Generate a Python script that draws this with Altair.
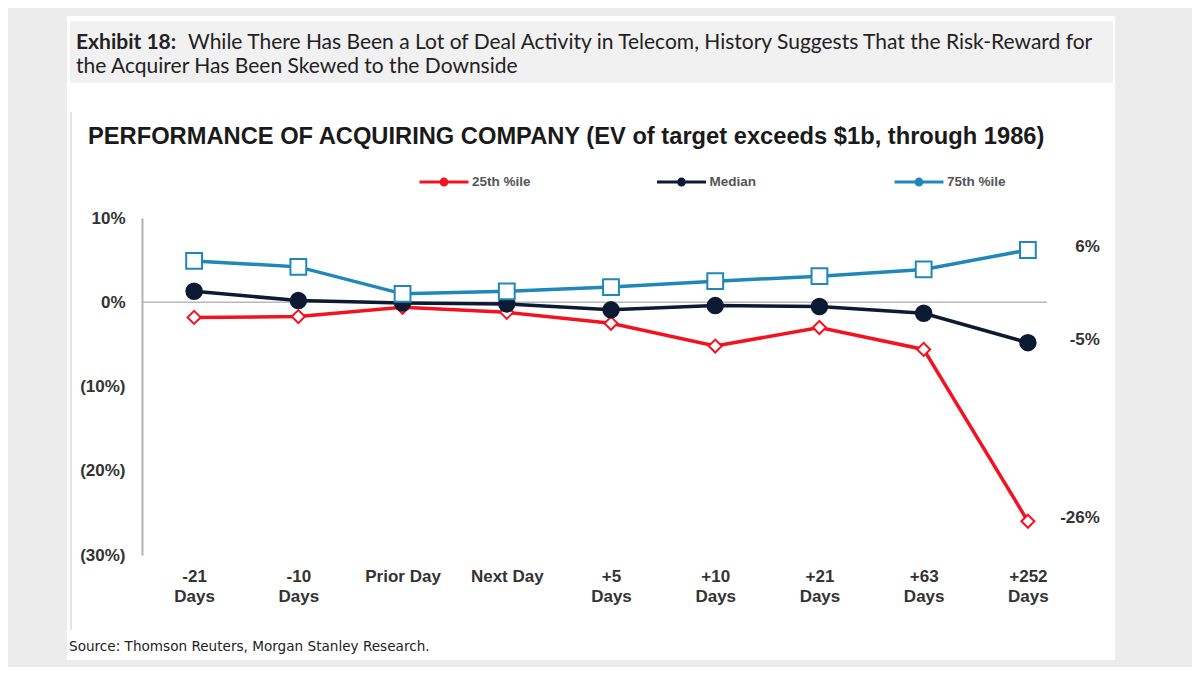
import altair as alt
import pandas as pd

categories = ["-21 Days", "-10 Days", "Prior Day", "Next Day", "+5 Days",
              "+10 Days", "+21 Days", "+63 Days", "+252 Days"]
series_names = ["25th %ile", "Median", "75th %ile"]
p25 = [-1.8, -1.7, -0.6, -1.2, -2.5, -5.2, -3.0, -5.6, -26.0]
median = [1.3, 0.2, -0.1, -0.2, -0.9, -0.4, -0.5, -1.3, -4.8]
p75 = [4.9, 4.2, 1.0, 1.3, 1.8, 2.5, 3.1, 3.9, 6.2]
end_labels = ["-26%", "-5%", "6%"]
y_ticks = [10, 0, -10, -20, -30]

colors = ["#f3121f", "#0c1a33", "#1f87b9"]
fills = ["white", "#0c1a33", "white"]
shapes = ["diamond", "circle", "square"]
sizes = [170, 240, 250]

rows = []
for name, vals in zip(series_names, [p25, median, p75]):
    for c, v in zip(categories, vals):
        rows.append({"category": c, "series": name, "value": v})
df = pd.DataFrame(rows)
end_df = pd.DataFrame({
    "category": [categories[-1]] * 3,
    "series": series_names,
    "value": [p25[-1], median[-1], p75[-1]],
    "label": end_labels,
})

FONT = "Liberation Sans"

x_enc = alt.X("category:N", sort=categories,
              scale=alt.Scale(type="point", padding=0.5),
              axis=alt.Axis(title=None, domain=False, ticks=False, grid=False,
                            labelAngle=0, labelPadding=13, labelFontSize=17,
                            labelFontWeight="bold", labelColor="#333333",
                            labelFont=FONT, labelLineHeight=20, zindex=2,
                            labelExpr="indexof('+-', substring(datum.label, 0, 1)) >= 0 ? split(datum.label, ' ') : datum.label"))
y_enc = alt.Y("value:Q", scale=alt.Scale(domain=[-30, 10], nice=False, zero=False),
              axis=alt.Axis(title=None, values=y_ticks, grid=False, ticks=False,
                            domainColor="#b3b3b3", domainWidth=2, zindex=2,
                            labelFontSize=17, labelFontWeight="bold",
                            labelColor="#333333", labelFont=FONT, labelPadding=17,
                            labelExpr="datum.value < 0 ? '(' + abs(datum.value) + '%)' : datum.value + '%'"))

one = pd.DataFrame({"a": [0]})

panel = alt.Chart(one).mark_rect(color="white").encode(
    x=alt.value(-75), x2=alt.value(973), y=alt.value(-202), y2=alt.value(442))
bar = alt.Chart(one).mark_rect(color="#f1f1f1").encode(
    x=alt.value(-72), x2=alt.value(971), y=alt.value(-197), y2=alt.value(-135))
ex_bold = alt.Chart(one).mark_text(text="Exhibit 18:", fontSize=21, fontWeight="bold",
                                   font="Lato", color="#222222", align="left",
                                   baseline="alphabetic").encode(
    x=alt.value(-66), y=alt.value(-169))
ex_rest = alt.Chart(one).mark_text(
    text="While There Has Been a Lot of Deal Activity in Telecom, History Suggests That the Risk-Reward for",
    fontSize=21, font="Lato", color="#222222", align="left", baseline="alphabetic").encode(
    x=alt.value(46), y=alt.value(-169))
ex_line2 = alt.Chart(one).mark_text(
    text="the Acquirer Has Been Skewed to the Downside",
    fontSize=21, font="Lato", color="#222222", align="left", baseline="alphabetic").encode(
    x=alt.value(-66), y=alt.value(-145))
chart_title = alt.Chart(one).mark_text(
    text="PERFORMANCE OF ACQUIRING COMPANY (EV of target exceeds $1b, through 1986)",
    fontSize=23.7, font=FONT, fontWeight="bold", color="#1a1a1a", align="left",
    baseline="middle").encode(x=alt.value(-54), y=alt.value(-81))
source = alt.Chart(one).mark_text(
    text="Source: Thomson Reuters, Morgan Stanley Research.",
    fontSize=13.6, font="DejaVu Sans", color="#222222", align="left",
    baseline="middle").encode(x=alt.value(-73), y=alt.value(429))
left_border = alt.Chart(one).mark_rule(color="#dddddd", strokeWidth=1.5).encode(
    x=alt.value(-71), y=alt.value(-106), y2=alt.value(412))

zero = alt.Chart(pd.DataFrame({"v": [0]})).mark_rule(color="#b8b8b8", strokeWidth=1.5).encode(
    y="v:Q", x=alt.value(0), x2=alt.value(905))

legend_path = "M-1,0H1M0.12,0A0.12,0.12,0,1,1,-0.12,0A0.12,0.12,0,1,1,0.12,0"
lines = alt.Chart(df).mark_line(strokeWidth=3.5).encode(
    x=x_enc, y=y_enc,
    color=alt.Color("series:N", scale=alt.Scale(domain=series_names, range=colors),
                    legend=alt.Legend(orient="none", legendX=276, legendY=-62,
                                      direction="horizontal", title=None,
                                      symbolType=legend_path, symbolSize=2401,
                                      symbolStrokeWidth=3, labelFontSize=13.5,
                                      labelFontWeight="bold", labelColor="#555555",
                                      labelFont=FONT, labelOffset=2, padding=0,
                                      columnPadding=119.5, gridAlign="all")))

point_layers = []
for name, shp, fc, sc, sz in zip(series_names, shapes, fills, colors, sizes):
    point_layers.append(
        alt.Chart(df).transform_filter(alt.datum.series == name).mark_point(
            shape=shp, fill=fc, stroke=sc, size=sz, opacity=1, fillOpacity=1,
            strokeWidth=2).encode(x=x_enc, y=y_enc)
    )

labels = alt.Chart(end_df).mark_text(dx=72, dy=-3, fontSize=17, fontWeight="bold",
                                     font=FONT, color="#333333", align="right").encode(
    x=x_enc, y=y_enc, text="label:N")

chart = alt.layer(
    panel, bar, ex_bold, ex_rest, ex_line2, chart_title, source, left_border,
    zero, lines, *point_layers, labels
).properties(
    width=938, height=337,
    autosize=alt.AutoSizeParams(type="none"),
    padding={"left": 134, "top": 210, "right": 112, "bottom": 112},
    background="#ececec",
).configure_view(stroke=None)

chart.save("out.html", embed_options={"renderer": "svg", "actions": False})
